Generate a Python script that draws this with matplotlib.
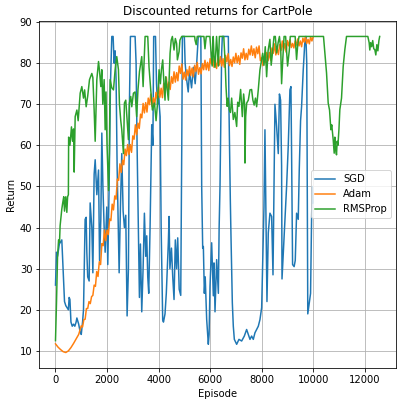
import matplotlib
matplotlib.use("Agg")
import matplotlib.pyplot as plt

# SGD: episode / discounted return
sgd_ep = [0, 40, 80, 150, 245, 300, 350, 400, 450, 500, 530, 560, 600, 650, 700, 750,
          800, 830, 900, 960, 1000, 1050, 1087, 1150, 1190, 1216, 1250, 1306, 1345, 1410,
          1450, 1500, 1540, 1604, 1670, 1710, 1759, 1798, 1840, 1888, 1927, 1991, 2029,
          2081, 2133, 2185, 2236, 2275, 2314, 2352, 2391, 2443, 2470, 2520, 2572, 2624,
          2675, 2727, 2779, 2830, 2869, 2908, 3089, 3128, 3166, 3218, 3257, 3296, 3347,
          3399, 3450, 3502, 3541, 3580, 3618, 3670, 3735, 3780, 3810, 3880, 3920, 3960,
          4000, 4060, 4100, 4160, 4190, 4250, 4300, 4380, 4407, 4440, 4500, 4550, 4600,
          4650, 4700, 4743, 4800, 4860, 4900, 4924, 5000, 5030, 5090, 5150, 5200, 5280,
          5350, 5420, 5480, 5540, 5640, 5673, 5712, 5738, 5776, 5810, 5867, 5931, 5960,
          5996, 6060, 6125, 6151, 6190, 6254, 6320, 6350, 6384, 6448, 6474, 6707, 6733,
          6784, 6810, 6862, 6900, 6940, 7030, 7120, 7224, 7327, 7417, 7482, 7547, 7611,
          7676, 7740, 7805, 7870, 7934, 8000, 8040, 8090, 8128, 8167, 8206, 8257, 8322,
          8387, 8440, 8477, 8516, 8580, 8645, 8690, 8735, 8774, 8790, 8840, 8904, 8968,
          9033, 9097, 9136, 9162, 9200, 9260, 9304, 9356, 9420, 9459, 9510, 9549, 9614,
          9680, 9717, 9750, 9790, 9847, 9898, 9937, 9963, 9990]
sgd_ret = [26, 34, 33, 36, 37, 29, 22, 21, 20.5, 20, 23, 22.5, 17, 16, 16.5, 16,
           17, 18, 16.5, 14.5, 14, 17, 20, 42, 42.5, 34, 28, 27, 46, 40,
           29, 53, 56.5, 48, 54, 32, 42, 63, 50, 40, 34, 45, 31,
           50, 75, 86.5, 86.5, 80, 83, 76, 55, 38, 29, 45, 58, 44,
           40, 43, 18.5, 30, 70, 86.5, 86.5, 80, 60, 38, 23, 36, 19.5,
           30, 43.5, 33, 38, 28, 24, 40, 65, 60, 86.5, 86.5, 75, 70,
           72, 67, 40, 17.5, 17, 19, 24, 36.5, 42.7, 30, 35, 28, 22.5,
           37, 30, 37.5, 25, 23.5, 60, 86.5, 86.5, 80, 76, 73, 78, 74,
           79, 75, 80, 86.5, 86.5, 50, 35, 35.4, 24, 28, 17.6, 11.6, 14,
           25.7, 36.3, 23.4, 31.4, 19.5, 32.2, 24, 40, 50, 82.4, 86.5, 86.5, 68.6,
           46.8, 37.9, 21.7, 16, 12.8, 11.6, 12.8, 12.4, 13.6, 15.2, 14, 12.8, 13.6,
           12.8, 14.4, 15.2, 16, 17.6, 20.5, 31, 45, 63.8, 42, 22, 38.7, 43.5,
           42.7, 28.5, 48, 70, 64.6, 58, 72.5, 71, 55, 27.5, 33.8, 42, 50,
           60, 73.5, 74.3, 58, 31, 30.5, 32, 43.5, 42, 54, 66, 69.4, 78.4,
           85.6, 86.5, 80, 19, 21.7, 24, 42, 50, 46]

# Adam: every 100 episodes up to 900, then every 50 episodes
adam_ep = list(range(0, 1000, 100)) + list(range(1000, 10001, 50))
adam_ret = [11.7, 10.9, 10.3, 9.8, 9.6, 10.0, 10.8, 11.8, 12.9, 14.0,
            16.1, 15.8, 17.6, 17.7, 20.3, 20.3, 22.0, 21.5, 23.2, 23.5,
            26.0, 25.7, 29.3, 28.1, 31.7, 31.0, 36.1, 35.6, 39.4, 36.8,
            39.4, 38.3, 42.1, 41.7, 45.7, 44.3, 47.7, 46.9, 51.8, 51.5,
            55.5, 53.4, 56.4, 55.3, 59.1, 57.5, 60.2, 57.8, 60.2, 58.3,
            62.3, 61.5, 65.0, 62.6, 65.4, 64.1, 67.6, 66.7, 70.2, 67.9,
            70.4, 68.1, 71.5, 69.9, 72.5, 69.5, 71.6, 69.8, 72.9, 71.4,
            74.2, 71.7, 73.9, 71.6, 75.1, 73.7, 76.6, 73.4, 75.4, 73.6,
            76.7, 75.1, 77.9, 75.4, 77.7, 75.7, 79.3, 77.5, 79.8, 76.1,
            77.8, 75.9, 78.4, 76.9, 79.2, 77.0, 78.8, 76.7, 79.5, 78.0,
            80.2, 77.3, 78.9, 77.4, 79.9, 78.4, 80.7, 78.4, 80.2, 78.2,
            81.1, 79.8, 82.1, 79.0, 80.3, 78.7, 81.2, 79.5, 81.6, 79.3,
            81.1, 79.0, 81.9, 80.3, 82.3, 79.4, 80.9, 79.2, 81.5, 80.1,
            82.4, 80.1, 81.8, 79.7, 82.5, 81.2, 83.5, 80.8, 82.4, 80.9,
            83.4, 82.0, 84.2, 81.9, 83.5, 81.3, 83.9, 82.3, 84.2, 80.6,
            81.3, 79.4, 81.4, 80.2, 82.6, 80.6, 82.6, 80.7, 83.7, 82.4,
            84.7, 82.0, 83.6, 82.1, 84.5, 83.1, 85.4, 83.1, 84.8, 82.7,
            85.5, 84.2, 85.7, 83.8, 84.8, 83.7, 85.4, 84.4, 85.9, 84.2,
            85.4, 84.0, 86.1, 85.1, 86.4, 84.8, 85.8, 84.7, 86.4, 85.4,
            86.4]

# RMSProp
rms_ep = [0, 40, 80, 120, 155, 180, 245, 280, 320, 350, 400, 440, 470, 500, 510,
          560, 620, 660, 700, 725, 764, 830, 880, 958, 1022, 1087, 1130, 1190, 1250,
          1320, 1410, 1450, 1500, 1540, 1604, 1670, 1710, 1759, 1798, 1836, 1888,
          1927, 1960, 2000, 2060, 2090, 2120, 2185, 2250, 2314, 2378, 2443, 2482,
          2533, 2572, 2637, 2675, 2727, 2779, 2830, 2869, 2921, 2960, 3024, 3089,
          3150, 3200, 3260, 3347, 3400, 3477, 3580, 3630, 3696, 3760, 3840, 3903,
          3960, 4019, 4070, 4110, 4161, 4200, 4250, 4278, 4320, 4381, 4446, 4490,
          4536, 4600, 4650, 4700, 4730, 4795, 4830, 4898, 5400, 5415, 5460, 5500,
          5760, 5800, 5850, 5990, 6030, 6080, 6120, 6150, 6190, 6250, 6320, 6360,
          6530, 6580, 6616, 6660, 6700, 6745, 6790, 6836, 6900, 6960, 7030, 7070,
          7120, 7184, 7250, 7300, 7340, 7353, 7380, 7420, 7482, 7547, 7610, 7660,
          7710, 7760, 7805, 7870, 7934, 7999, 8040, 8090, 8140, 8193, 8250, 8320,
          8370, 8420, 8480, 8530, 8580, 8640, 8690, 8740, 8774, 8820, 8870, 8930,
          9006, 9071, 9110, 9300, 9355, 9400, 9450, 10400, 10454, 10518, 10582,
          10634, 10686, 10720, 10776, 10815, 10840, 10870, 10905, 10930, 10960,
          11000, 11034, 11099, 11164, 11228, 11293, 12120, 12171, 12197, 12230,
          12270, 12310, 12350, 12391, 12430, 12470, 12510, 12550, 12580]
rms_ret = [12.5, 22, 33, 37, 36.4, 40.5, 44.5, 46, 47.5, 44, 47.5, 43.7, 47.5, 48, 62,
           60, 64.5, 61, 64, 53.5, 67, 68.6, 66, 72.7, 74.3, 71.5, 73.5, 69.4, 72,
           76, 77.5, 76.5, 68.6, 61, 76, 80.4, 78, 74.3, 78.4, 70, 76,
           63.8, 73, 60, 49, 58, 76, 74, 73.5, 78.4, 81.6, 78.4, 70,
           66, 63.8, 58, 70.3, 71, 66, 61.4, 70.3, 71.9, 69.4, 72.7, 73,
           67, 73.5, 78, 81.6, 74.3, 86.5, 86.5, 79, 73.5, 68.6, 70.3, 66,
           70.3, 78.4, 75, 78.4, 80.8, 76, 71, 76.7, 74.3, 71, 82.4, 85.6,
           86.5, 83.2, 86, 84.8, 80.8, 82.8, 85.6, 86.5, 86.5, 85.6, 84.5, 86.5,
           86.5, 83.5, 86.5, 86.5, 83.3, 79.3, 86.5, 81.7, 79, 86.5, 79.3, 86.5,
           86.5, 80.5, 74.4, 69.5, 71.5, 68.7, 68, 71.5, 66.3, 68, 64.6, 70.5,
           69.5, 73.6, 67, 72.5, 70, 55.7, 67, 70.3, 71, 73.5, 73.6, 71,
           69.8, 71.5, 69.4, 73.6, 78.4, 80.9, 82.4, 79.5, 84, 76.7, 83, 85.8,
           79.5, 82.5, 86.5, 86.5, 82.5, 85, 86.5, 83.5, 75, 81, 86.5, 86.5,
           79.3, 83, 86.5, 86.5, 80.9, 84.5, 86.5, 86.5, 82.5, 77.6, 70.3,
           68.6, 63.8, 65, 61.4, 58.1, 62, 59, 57.7, 61, 60,
           64, 68.7, 71.5, 79.2, 83.3, 86.5, 86.5, 85, 83.2, 85,
           84, 85.5, 83.5, 83.3, 82, 84.5, 83, 85.5, 86.5]

fig = plt.figure(figsize=(398 / 72, 401 / 72), dpi=72)
ax = fig.add_axes([0.0987, 0.0815, 0.896, 0.867])

ax.plot(sgd_ep, sgd_ret, label='SGD')
ax.plot(adam_ep, adam_ret, label='Adam')
ax.plot(rms_ep, rms_ret, label='RMSProp')

ax.set_title('Discounted returns for CartPole')
ax.set_xlabel('Episode')
ax.set_ylabel('Return')
ax.grid(True)
ax.legend(loc='center right')

fig.savefig('out.png', dpi=72)
